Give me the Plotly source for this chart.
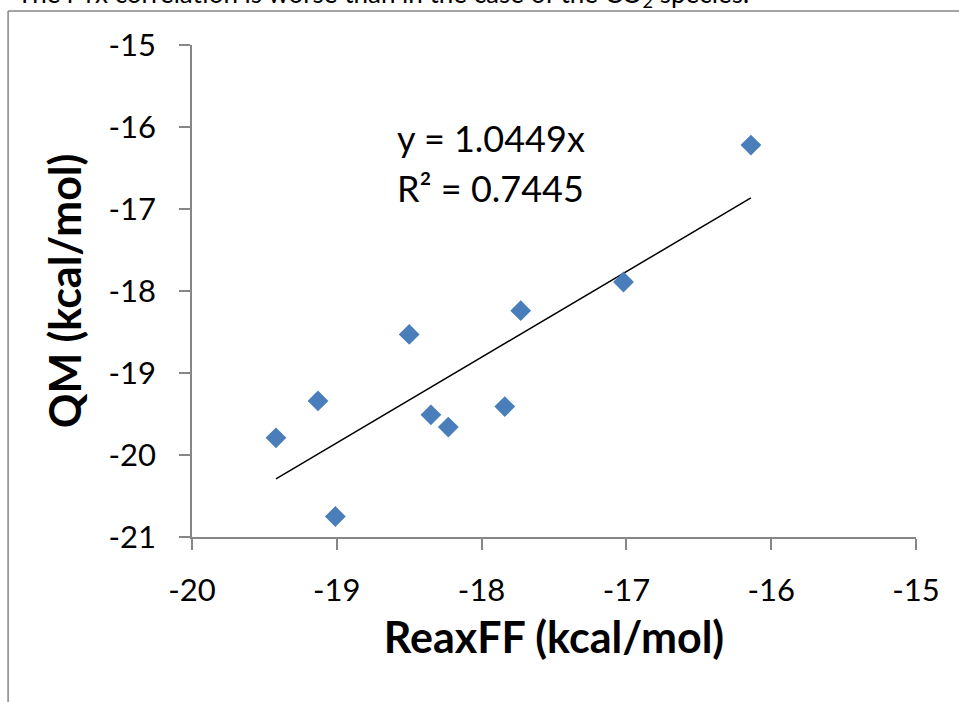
import plotly.graph_objects as go

# Data
reaxff = [-19.42, -19.13, -19.01, -18.50, -18.35, -18.23, -17.84, -17.73, -17.02, -16.14]
qm = [-19.79, -19.34, -20.75, -18.53, -19.51, -19.66, -19.41, -18.24, -17.89, -16.22]
slope = 1.0449
r2 = 0.7445
x_ticks = [-20, -19, -18, -17, -16, -15]
y_ticks = [-21, -20, -19, -18, -17, -16, -15]

FONT = "Lato"
AXIS_GREY = "#868686"

trend_x = [min(reaxff), max(reaxff)]
trend_y = [slope * v for v in trend_x]

fig = go.Figure()
fig.add_trace(go.Scatter(
    x=trend_x, y=trend_y, mode="lines",
    line=dict(color="black", width=1.5), showlegend=False, hoverinfo="skip"))
fig.add_trace(go.Scatter(
    x=reaxff, y=qm, mode="markers",
    marker=dict(symbol="diamond", size=16, color="#4A7EBB", line=dict(width=0)),
    showlegend=False))

fig.update_layout(
    width=959, height=702,
    margin=dict(l=192, r=43, t=45, b=165),
    paper_bgcolor="white", plot_bgcolor="white",
    font=dict(family=FONT, color="black"),
    xaxis=dict(
        range=[-20, -15], tickvals=x_ticks, ticktext=[str(v) for v in x_ticks],
        showgrid=False, zeroline=False, showline=True, linecolor=AXIS_GREY, linewidth=1.5,
        ticks="outside", ticklen=11, tickcolor=AXIS_GREY, tickwidth=1.5,
        tickfont=dict(size=31, family=FONT), ticklabelstandoff=14,
        title=dict(text="<b>ReaxFF (kcal/mol)</b>", font=dict(size=43, family=FONT), standoff=16),
    ),
    yaxis=dict(
        range=[-21, -15], tickvals=y_ticks, ticktext=[str(v) for v in y_ticks],
        showgrid=False, zeroline=False, showline=True, linecolor=AXIS_GREY, linewidth=1.5,
        ticks="outside", ticklen=11, tickcolor=AXIS_GREY, tickwidth=1.5,
        tickfont=dict(size=31, family=FONT), ticklabelstandoff=17,
        title=dict(text="<b>QM (kcal/mol)</b>", font=dict(size=43, family=FONT), standoff=14),
    ),
)

fig.add_annotation(
    x=-18.60, y=-16.14, xref="x", yref="y", xanchor="left", yanchor="middle",
    align="left", showarrow=False, text=f"y = {slope:.4f}x",
    font=dict(size=36, family=FONT, color="black"))
fig.add_annotation(
    x=-18.60, y=-16.74, xref="x", yref="y", xanchor="left", yanchor="middle",
    align="left", showarrow=False, text=f"R² = {r2:.4f}",
    font=dict(size=36, family=FONT, color="black"))

# surrounding document text (partially cut at top) and chart border
fig.add_annotation(
    x=-0.245, y=1.063, xref="paper", yref="paper", xanchor="left", yanchor="bottom",
    showarrow=False, text="The r-rx correlation is worse than in the case of the CO<sub>2</sub> species.",
    font=dict(size=26, family=FONT, color="black"))
fig.add_shape(type="line", xref="paper", yref="paper", x0=-0.254, x1=-0.254, y0=1.069, y1=-0.4,
              line=dict(color=AXIS_GREY, width=1.5))
fig.add_shape(type="line", xref="paper", yref="paper", x0=-0.254, x1=1.1, y0=1.069, y1=1.069,
              line=dict(color=AXIS_GREY, width=1.5))

fig.write_html("out.html")
